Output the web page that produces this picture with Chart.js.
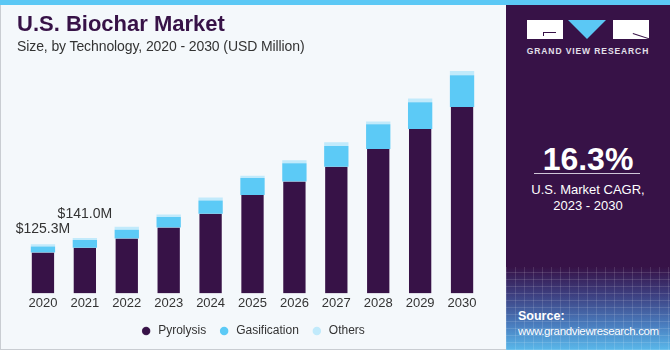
<!DOCTYPE html>
<html lang="en">
  <head>
    <meta charset="UTF-8" />
    <title>U.S. Biochar Market</title>
    <style>
      body {
        margin: 0;
        width: 670px;
        height: 350px;
        overflow: hidden;
        font-family: "Liberation Sans", Arial, sans-serif;
        background: #f4f8fb;
        position: relative;
      }
      .topbar {
        position: absolute;
        left: 0;
        top: 0;
        width: 670px;
        height: 5px;
        background: #5bc8f5;
      }
      .frame {
        position: absolute;
        left: 0;
        top: 5px;
        width: 505px;
        height: 344px;
        border-left: 1px solid #c9cdd2;
        border-bottom: 1px solid #c9cdd2;
      }
      h1 {
        position: absolute;
        left: 17px;
        top: 11px;
        margin: 0;
        font-size: 22px;
        font-weight: bold;
        color: #371247;
      }
      .subtitle {
        position: absolute;
        left: 17px;
        top: 38px;
        font-size: 14px;
        color: #333;
        letter-spacing: -0.1px;
      }
      .chart-container {
        position: absolute;
        left: 0;
        top: 0;
        width: 506px;
        height: 350px;
      }
      .panel {
        position: absolute;
        left: 506px;
        top: 5px;
        width: 164px;
        height: 345px;
        background: linear-gradient(
          to bottom,
          #371247 0%,
          #371247 76%,
          #3d3f80 84%,
          #4a7fc0 93%,
          #5ab8ea 100%
        );
        color: #fff;
        text-align: center;
      }
      .grid {
        position: absolute;
        left: 0;
        top: 262px;
        width: 164px;
        height: 83px;
        background-image: repeating-linear-gradient(
            90deg,
            rgba(255, 255, 255, 0.12) 0 1px,
            transparent 1px 9px
          ),
          repeating-linear-gradient(
            0deg,
            rgba(255, 255, 255, 0.12) 0 1px,
            transparent 1px 7px
          );
      }
      .logo {
        position: absolute;
        top: 15px;
        left: 21px;
        width: 122px;
        height: 19px;
      }
      .logo .blk {
        position: absolute;
        top: 0;
        width: 36px;
        height: 19px;
        background: #fff;
        overflow: hidden;
      }
      .logo .g1 {
        position: absolute;
        left: 16px;
        top: 12px;
        width: 13px;
        height: 1px;
        background: #371247;
      }
      .logo .g2 {
        position: absolute;
        left: 16px;
        top: 12px;
        width: 1px;
        height: 4px;
        background: #371247;
      }
      .logo .r1 {
        position: absolute;
        left: 20px;
        top: 13px;
        width: 17px;
        height: 1px;
        background: #371247;
        transform: rotate(18deg);
        transform-origin: 0 0;
      }
      .logo .tri {
        position: absolute;
        top: 0;
        left: 41px;
        width: 0;
        height: 0;
        border-left: 19px solid transparent;
        border-right: 19px solid transparent;
        border-top: 19px solid #5bc8f5;
      }
      .logo-text {
        position: absolute;
        top: 41px;
        left: 0;
        width: 164px;
        font-size: 8.5px;
        font-weight: bold;
        letter-spacing: 0.9px;
        color: #e4e0ea;
      }
      .cagr {
        position: absolute;
        top: 136px;
        left: 0;
        width: 164px;
        font-size: 32px;
        font-weight: bold;
      }
      .rule {
        position: absolute;
        top: 168px;
        left: 28px;
        width: 106px;
        height: 1px;
        background: #cfc6d8;
      }
      .cagr-label {
        position: absolute;
        top: 177px;
        left: 0;
        width: 164px;
        font-size: 13px;
        line-height: 16px;
      }
      .source {
        position: absolute;
        left: 12px;
        top: 304px;
        text-align: left;
        font-size: 11.5px;
        line-height: 15px;
        letter-spacing: -0.35px;
      }
      .source b {
        font-size: 12.5px;
        letter-spacing: 0;
      }
    </style>
  </head>
  <body>
    <div class="topbar"></div>
    <div class="frame"></div>
    <div class="chart-container">
      <canvas id="biocharChart"></canvas>
    </div>
    <h1>U.S. Biochar Market</h1>
    <div class="subtitle">Size, by Technology, 2020 - 2030 (USD Million)</div>
    <div class="panel">
      <div class="grid"></div>
      <div class="logo">
        <div class="blk" style="left: 0"><div class="g1"></div><div class="g2"></div></div>
        <div class="tri"></div>
        <div class="blk" style="left: 86px"><div class="r1"></div></div>
      </div>
      <div class="logo-text">GRAND VIEW RESEARCH</div>
      <div class="cagr">16.3%</div>
      <div class="rule"></div>
      <div class="cagr-label">U.S. Market CAGR,<br />2023 - 2030</div>
      <div class="source"><b>Source:</b><br />www.grandviewresearch.com</div>
    </div>
    <script src="https://cdn.jsdelivr.net/npm/chart.js"></script>
    <script>
      const years = ["2020", "2021", "2022", "2023", "2024", "2025", "2026", "2027", "2028", "2029", "2030"];
      const pyrolysis = [104.5, 116.4, 140, 168, 203, 251, 285, 323, 368, 419, 475];
      const gasification = [15.2, 19.5, 22, 27, 34, 43, 47, 53, 63, 68, 81];
      const others = [5.6, 5.1, 7.6, 6, 7.6, 6, 7.6, 9.3, 7, 10, 11];
      const totalLabels = ["$125.3M", "$141.0M"];

      // labels above the first two bars
      const totalLabelPlugin = {
        id: "totalLabels",
        afterDatasetsDraw(chart) {
          const ctx = chart.ctx;
          const lift = [15, 24];
          const meta = chart.getDatasetMeta(2);
          ctx.save();
          ctx.font = "14px 'Liberation Sans', Arial, sans-serif";
          ctx.fillStyle = "#333";
          ctx.textAlign = "center";
          ctx.textBaseline = "middle";
          totalLabels.forEach((txt, i) => {
            const bar = meta.data[i];
            ctx.fillText(txt, bar.x, bar.y - lift[i]);
          });
          ctx.restore();
        },
      };

      new Chart(document.getElementById("biocharChart"), {
        type: "bar",
        data: {
          labels: years,
          datasets: [
            { label: "Pyrolysis", data: pyrolysis, backgroundColor: "#371247", borderColor: "rgba(255,255,255,0.25)", borderWidth: { left: 1, right: 1 } },
            { label: "Gasification", data: gasification, backgroundColor: "#5ccaf6" },
            { label: "Others", data: others, backgroundColor: "#c1eafb" },
          ],
        },
        options: {
          responsive: true,
          maintainAspectRatio: false,
          animation: false,
          layout: { padding: { left: 22, right: 23, top: 58, bottom: 3 } },
          datasets: {
            bar: { categoryPercentage: 1, barPercentage: 0.58 },
          },
          scales: {
            x: {
              stacked: true,
              grid: { display: false, drawTicks: false },
              border: { display: false },
              ticks: {
                color: "#333",
                font: { size: 13, family: "'Liberation Sans', Arial, sans-serif" },
                padding: 2,
              },
            },
            y: {
              stacked: true,
              display: false,
              min: 0,
              max: 600,
            },
          },
          plugins: {
            legend: {
              position: "bottom",
              labels: {
                usePointStyle: true,
                pointStyle: "circle",
                boxWidth: 12,
                boxHeight: 6,
                padding: 12,
                color: "#333",
                font: { size: 12, family: "'Liberation Sans', Arial, sans-serif" },
              },
            },
            tooltip: { enabled: false },
          },
        },
        plugins: [totalLabelPlugin],
      });
    </script>
  </body>
</html>
